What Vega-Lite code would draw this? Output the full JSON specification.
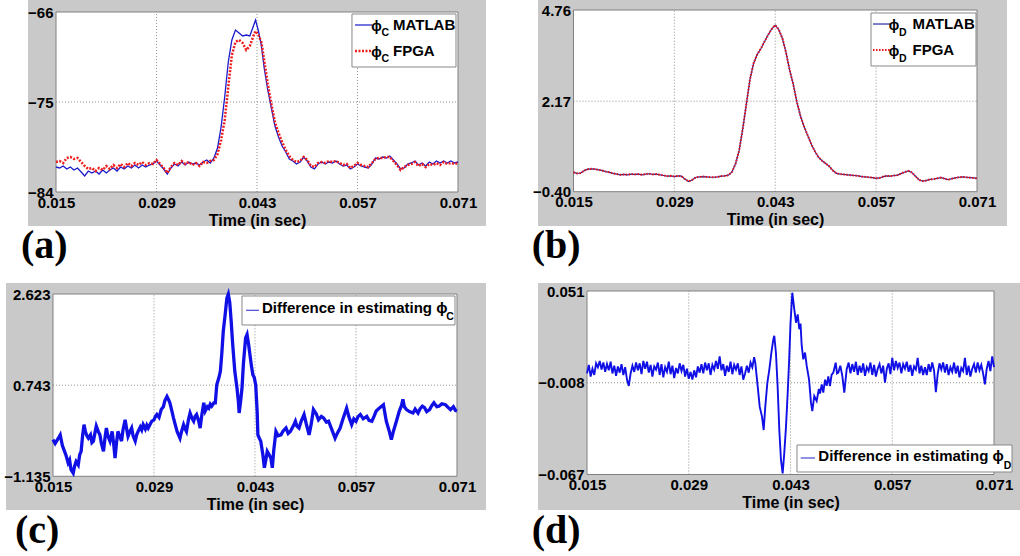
{
"$schema":"https://vega.github.io/schema/vega-lite/v6.json",
"padding":0,
"background":"white",
"config":{"view":{"stroke":null},
 "axis":{"domain":false,"ticks":false,"grid":false,"labelFont":"Liberation Sans","labelFontWeight":"bold","labelFontSize":15,"labelColor":"black","titleFont":"Liberation Sans","titleFontSize":16,"titleFontWeight":"bold","titleColor":"black","labelFlush":false,"labelOverlap":false,"labelPadding":3,"titlePadding":2},
 "text":{"font":"Liberation Sans","fontWeight":"bold","fontSize":15,"align":"left","baseline":"alphabetic","color":"black"}},
"datasets":{
"a":[
{"t":0.0150,"m":-81.5,"f":-81.0},{"t":0.0155,"m":-81.6,"f":-80.9},{"t":0.0160,"m":-81.4,"f":-81.1},{"t":0.0165,"m":-81.7,"f":-80.6},{"t":0.0170,"m":-81.5,"f":-80.5},{"t":0.0175,"m":-81.8,"f":-80.7},{"t":0.0180,"m":-81.6,"f":-80.6},{"t":0.0185,"m":-82.0,"f":-81.0},{"t":0.0190,"m":-82.4,"f":-81.4},{"t":0.0195,"m":-81.9,"f":-81.7},{"t":0.0200,"m":-82.1,"f":-81.6},{"t":0.0205,"m":-81.9,"f":-81.9},{"t":0.0210,"m":-82.2,"f":-81.6},{"t":0.0215,"m":-81.8,"f":-81.8},{"t":0.0220,"m":-82.1,"f":-81.4},{"t":0.0225,"m":-81.8,"f":-81.7},{"t":0.0230,"m":-81.6,"f":-81.3},{"t":0.0235,"m":-81.9,"f":-81.6},{"t":0.0240,"m":-81.5,"f":-81.2},{"t":0.0245,"m":-81.7,"f":-81.5},{"t":0.0250,"m":-81.4,"f":-81.1},{"t":0.0255,"m":-81.6,"f":-81.4},{"t":0.0260,"m":-81.3,"f":-81.1},{"t":0.0265,"m":-81.6,"f":-81.3},{"t":0.0270,"m":-81.3,"f":-81.0},{"t":0.0275,"m":-81.5,"f":-81.3},{"t":0.0280,"m":-81.3,"f":-81.1},{"t":0.0285,"m":-81.2,"f":-81.2},{"t":0.0290,"m":-80.9,"f":-80.8},{"t":0.0295,"m":-81.3,"f":-81.2},{"t":0.0300,"m":-81.7,"f":-81.6},{"t":0.0305,"m":-82.2,"f":-82.1},{"t":0.0310,"m":-81.6,"f":-81.5},{"t":0.0315,"m":-81.2,"f":-81.1},{"t":0.0320,"m":-81.4,"f":-81.3},{"t":0.0325,"m":-81.0,"f":-80.9},{"t":0.0330,"m":-81.3,"f":-81.2},{"t":0.0335,"m":-81.0,"f":-81.0},{"t":0.0340,"m":-81.2,"f":-81.3},{"t":0.0345,"m":-81.1,"f":-81.1},{"t":0.0350,"m":-81.3,"f":-81.4},{"t":0.0355,"m":-81.0,"f":-81.0},{"t":0.0360,"m":-80.8,"f":-81.1},{"t":0.0365,"m":-81.1,"f":-80.9},{"t":0.0370,"m":-80.6,"f":-80.8},{"t":0.0375,"m":-79.6,"f":-80.2},{"t":0.0380,"m":-77.5,"f":-78.8},{"t":0.0385,"m":-74.5,"f":-76.8},{"t":0.0390,"m":-71.0,"f":-73.5},{"t":0.0395,"m":-68.8,"f":-70.3},{"t":0.0400,"m":-67.8,"f":-69.0},{"t":0.0405,"m":-68.1,"f":-68.8},{"t":0.0410,"m":-68.4,"f":-69.1},{"t":0.0415,"m":-68.3,"f":-69.8},{"t":0.0420,"m":-68.4,"f":-69.4},{"t":0.0425,"m":-67.4,"f":-68.4},{"t":0.0428,"m":-66.8,"f":-67.9},{"t":0.0432,"m":-67.9,"f":-68.3},{"t":0.0436,"m":-69.3,"f":-69.0},{"t":0.0440,"m":-71.6,"f":-70.8},{"t":0.0445,"m":-73.8,"f":-73.2},{"t":0.0450,"m":-75.6,"f":-75.2},{"t":0.0455,"m":-77.4,"f":-77.0},{"t":0.0460,"m":-78.5,"f":-78.1},{"t":0.0465,"m":-79.4,"f":-79.0},{"t":0.0470,"m":-80.0,"f":-79.8},{"t":0.0475,"m":-80.7,"f":-80.4},{"t":0.0480,"m":-80.9,"f":-80.8},{"t":0.0485,"m":-81.2,"f":-81.0},{"t":0.0490,"m":-81.0,"f":-80.9},{"t":0.0495,"m":-80.5,"f":-80.5},{"t":0.0500,"m":-80.9,"f":-80.8},{"t":0.0505,"m":-81.5,"f":-81.4},{"t":0.0510,"m":-81.7,"f":-81.5},{"t":0.0515,"m":-81.2,"f":-81.1},{"t":0.0520,"m":-81.0,"f":-81.0},{"t":0.0525,"m":-81.2,"f":-81.1},{"t":0.0530,"m":-81.0,"f":-80.9},{"t":0.0535,"m":-81.1,"f":-81.0},{"t":0.0540,"m":-80.9,"f":-80.9},{"t":0.0545,"m":-81.2,"f":-81.1},{"t":0.0550,"m":-81.4,"f":-81.3},{"t":0.0555,"m":-81.3,"f":-81.2},{"t":0.0560,"m":-81.7,"f":-81.6},{"t":0.0565,"m":-81.5,"f":-81.4},{"t":0.0570,"m":-81.2,"f":-81.1},{"t":0.0575,"m":-81.4,"f":-81.3},{"t":0.0580,"m":-81.5,"f":-81.4},{"t":0.0585,"m":-81.6,"f":-81.5},{"t":0.0590,"m":-81.2,"f":-81.1},{"t":0.0595,"m":-80.6,"f":-80.7},{"t":0.0600,"m":-80.7,"f":-80.6},{"t":0.0605,"m":-80.5,"f":-80.6},{"t":0.0610,"m":-80.6,"f":-80.5},{"t":0.0615,"m":-80.4,"f":-80.5},{"t":0.0620,"m":-80.8,"f":-80.9},{"t":0.0625,"m":-81.2,"f":-81.3},{"t":0.0630,"m":-81.7,"f":-81.8},{"t":0.0635,"m":-81.6,"f":-81.5},{"t":0.0640,"m":-81.2,"f":-81.3},{"t":0.0645,"m":-81.1,"f":-81.2},{"t":0.0650,"m":-80.9,"f":-81.0},{"t":0.0655,"m":-81.3,"f":-81.4},{"t":0.0660,"m":-81.1,"f":-81.2},{"t":0.0665,"m":-81.4,"f":-81.5},{"t":0.0670,"m":-81.0,"f":-81.2},{"t":0.0675,"m":-81.2,"f":-81.3},{"t":0.0680,"m":-80.9,"f":-81.1},{"t":0.0685,"m":-81.1,"f":-81.3},{"t":0.0690,"m":-80.9,"f":-81.0},{"t":0.0695,"m":-81.1,"f":-81.2},{"t":0.0700,"m":-80.9,"f":-81.1},{"t":0.0705,"m":-81.1,"f":-81.2},{"t":0.0710,"m":-81.0,"f":-81.1}],
"b":[
{"t":0.0150,"v":0.15},{"t":0.0155,"v":0.12},{"t":0.0160,"v":0.13},{"t":0.0165,"v":0.20},{"t":0.0170,"v":0.24},{"t":0.0175,"v":0.25},{"t":0.0180,"v":0.24},{"t":0.0185,"v":0.22},{"t":0.0190,"v":0.20},{"t":0.0195,"v":0.17},{"t":0.0200,"v":0.15},{"t":0.0205,"v":0.12},{"t":0.0210,"v":0.10},{"t":0.0215,"v":0.08},{"t":0.0220,"v":0.09},{"t":0.0225,"v":0.08},{"t":0.0230,"v":0.10},{"t":0.0235,"v":0.09},{"t":0.0240,"v":0.10},{"t":0.0245,"v":0.08},{"t":0.0250,"v":0.10},{"t":0.0255,"v":0.11},{"t":0.0260,"v":0.09},{"t":0.0265,"v":0.10},{"t":0.0270,"v":0.08},{"t":0.0275,"v":0.06},{"t":0.0280,"v":0.04},{"t":0.0285,"v":0.05},{"t":0.0290,"v":0.03},{"t":0.0295,"v":0.05},{"t":0.0300,"v":0.04},{"t":0.0305,"v":-0.05},{"t":0.0310,"v":-0.11},{"t":0.0315,"v":-0.06},{"t":0.0320,"v":0.01},{"t":0.0325,"v":0.02},{"t":0.0330,"v":0.03},{"t":0.0335,"v":0.02},{"t":0.0340,"v":0.01},{"t":0.0345,"v":0.01},{"t":0.0350,"v":0.02},{"t":0.0355,"v":0.04},{"t":0.0360,"v":0.05},{"t":0.0365,"v":0.07},{"t":0.0370,"v":0.16},{"t":0.0375,"v":0.40},{"t":0.0380,"v":0.78},{"t":0.0385,"v":1.40},{"t":0.0390,"v":2.10},{"t":0.0395,"v":2.80},{"t":0.0400,"v":3.25},{"t":0.0405,"v":3.50},{"t":0.0410,"v":3.66},{"t":0.0415,"v":3.86},{"t":0.0420,"v":4.05},{"t":0.0425,"v":4.22},{"t":0.0430,"v":4.33},{"t":0.0435,"v":4.20},{"t":0.0440,"v":3.95},{"t":0.0445,"v":3.55},{"t":0.0450,"v":3.05},{"t":0.0455,"v":2.65},{"t":0.0460,"v":2.15},{"t":0.0465,"v":1.75},{"t":0.0470,"v":1.45},{"t":0.0475,"v":1.20},{"t":0.0480,"v":0.95},{"t":0.0485,"v":0.75},{"t":0.0490,"v":0.58},{"t":0.0495,"v":0.48},{"t":0.0500,"v":0.40},{"t":0.0505,"v":0.32},{"t":0.0510,"v":0.20},{"t":0.0515,"v":0.12},{"t":0.0520,"v":0.10},{"t":0.0525,"v":0.09},{"t":0.0530,"v":0.08},{"t":0.0535,"v":0.07},{"t":0.0540,"v":0.06},{"t":0.0545,"v":0.05},{"t":0.0550,"v":0.03},{"t":0.0555,"v":0.02},{"t":0.0560,"v":0.01},{"t":0.0565,"v":0.00},{"t":0.0570,"v":-0.02},{"t":0.0575,"v":-0.01},{"t":0.0580,"v":0.03},{"t":0.0585,"v":0.05},{"t":0.0590,"v":0.04},{"t":0.0595,"v":0.06},{"t":0.0600,"v":0.07},{"t":0.0605,"v":0.12},{"t":0.0610,"v":0.16},{"t":0.0615,"v":0.19},{"t":0.0620,"v":0.14},{"t":0.0625,"v":0.03},{"t":0.0630,"v":-0.07},{"t":0.0635,"v":-0.10},{"t":0.0640,"v":-0.08},{"t":0.0645,"v":-0.05},{"t":0.0650,"v":-0.04},{"t":0.0655,"v":-0.02},{"t":0.0660,"v":0.00},{"t":0.0665,"v":-0.03},{"t":0.0670,"v":-0.06},{"t":0.0675,"v":-0.03},{"t":0.0680,"v":-0.01},{"t":0.0685,"v":0.01},{"t":0.0690,"v":0.02},{"t":0.0695,"v":0.01},{"t":0.0700,"v":0.00},{"t":0.0705,"v":-0.01},{"t":0.0710,"v":-0.02}],
"c":[
{"t":0.0150,"v":-0.38},{"t":0.0153,"v":-0.46},{"t":0.0157,"v":-0.36},{"t":0.0160,"v":-0.28},{"t":0.0163,"v":-0.50},{"t":0.0166,"v":-0.62},{"t":0.0168,"v":-0.70},{"t":0.0171,"v":-0.86},{"t":0.0173,"v":-0.80},{"t":0.0175,"v":-1.00},{"t":0.0178,"v":-1.07},{"t":0.0180,"v":-0.92},{"t":0.0182,"v":-0.83},{"t":0.0185,"v":-0.90},{"t":0.0187,"v":-0.69},{"t":0.0189,"v":-0.62},{"t":0.0191,"v":-0.30},{"t":0.0193,"v":-0.07},{"t":0.0195,"v":-0.22},{"t":0.0197,"v":-0.30},{"t":0.0199,"v":-0.35},{"t":0.0202,"v":-0.28},{"t":0.0204,"v":-0.44},{"t":0.0206,"v":-0.41},{"t":0.0208,"v":-0.25},{"t":0.0210,"v":-0.10},{"t":0.0213,"v":-0.22},{"t":0.0215,"v":-0.28},{"t":0.0217,"v":-0.45},{"t":0.0220,"v":-0.62},{"t":0.0222,"v":-0.35},{"t":0.0224,"v":-0.14},{"t":0.0226,"v":-0.30},{"t":0.0229,"v":-0.41},{"t":0.0232,"v":-0.21},{"t":0.0234,"v":-0.45},{"t":0.0236,"v":-0.76},{"t":0.0238,"v":-0.45},{"t":0.0240,"v":-0.21},{"t":0.0243,"v":-0.33},{"t":0.0245,"v":-0.41},{"t":0.0247,"v":-0.18},{"t":0.0250,"v":0.03},{"t":0.0252,"v":-0.15},{"t":0.0254,"v":-0.31},{"t":0.0257,"v":-0.20},{"t":0.0259,"v":-0.14},{"t":0.0261,"v":-0.30},{"t":0.0264,"v":-0.41},{"t":0.0266,"v":-0.28},{"t":0.0268,"v":-0.21},{"t":0.0271,"v":-0.12},{"t":0.0273,"v":-0.18},{"t":0.0275,"v":-0.07},{"t":0.0278,"v":-0.16},{"t":0.0280,"v":-0.08},{"t":0.0282,"v":-0.14},{"t":0.0285,"v":-0.05},{"t":0.0287,"v":0.00},{"t":0.0290,"v":0.03},{"t":0.0292,"v":0.10},{"t":0.0294,"v":0.14},{"t":0.0297,"v":0.08},{"t":0.0300,"v":0.24},{"t":0.0303,"v":0.30},{"t":0.0305,"v":0.42},{"t":0.0308,"v":0.51},{"t":0.0310,"v":0.45},{"t":0.0312,"v":0.38},{"t":0.0315,"v":0.20},{"t":0.0317,"v":0.07},{"t":0.0320,"v":-0.10},{"t":0.0322,"v":-0.21},{"t":0.0324,"v":-0.28},{"t":0.0326,"v":-0.35},{"t":0.0328,"v":-0.22},{"t":0.0331,"v":-0.07},{"t":0.0333,"v":-0.15},{"t":0.0335,"v":-0.21},{"t":0.0338,"v":0.05},{"t":0.0340,"v":0.17},{"t":0.0343,"v":0.05},{"t":0.0345,"v":0.00},{"t":0.0347,"v":0.10},{"t":0.0349,"v":0.14},{"t":0.0352,"v":0.00},{"t":0.0354,"v":-0.14},{"t":0.0356,"v":0.10},{"t":0.0359,"v":0.38},{"t":0.0361,"v":0.21},{"t":0.0364,"v":0.30},{"t":0.0366,"v":0.27},{"t":0.0368,"v":0.35},{"t":0.0370,"v":0.31},{"t":0.0373,"v":0.38},{"t":0.0375,"v":0.38},{"t":0.0377,"v":0.75},{"t":0.0380,"v":0.90},{"t":0.0382,"v":1.03},{"t":0.0384,"v":1.40},{"t":0.0386,"v":1.85},{"t":0.0389,"v":2.25},{"t":0.0391,"v":2.54},{"t":0.0393,"v":2.62},{"t":0.0395,"v":2.45},{"t":0.0397,"v":2.06},{"t":0.0399,"v":1.60},{"t":0.0402,"v":1.03},{"t":0.0405,"v":0.69},{"t":0.0407,"v":0.40},{"t":0.0408,"v":0.17},{"t":0.0410,"v":0.40},{"t":0.0412,"v":0.69},{"t":0.0414,"v":1.20},{"t":0.0417,"v":1.72},{"t":0.0419,"v":1.79},{"t":0.0421,"v":1.60},{"t":0.0423,"v":1.37},{"t":0.0425,"v":1.15},{"t":0.0427,"v":0.96},{"t":0.0429,"v":0.90},{"t":0.0431,"v":0.75},{"t":0.0433,"v":0.20},{"t":0.0434,"v":-0.28},{"t":0.0436,"v":-0.35},{"t":0.0438,"v":-0.41},{"t":0.0441,"v":-0.70},{"t":0.0443,"v":-0.96},{"t":0.0445,"v":-0.80},{"t":0.0447,"v":-0.62},{"t":0.0450,"v":-0.70},{"t":0.0452,"v":-0.76},{"t":0.0454,"v":-0.96},{"t":0.0456,"v":-0.60},{"t":0.0459,"v":-0.21},{"t":0.0462,"v":-0.30},{"t":0.0466,"v":-0.28},{"t":0.0469,"v":-0.20},{"t":0.0473,"v":-0.14},{"t":0.0476,"v":-0.25},{"t":0.0479,"v":-0.21},{"t":0.0483,"v":-0.10},{"t":0.0486,"v":0.00},{"t":0.0488,"v":-0.10},{"t":0.0491,"v":-0.14},{"t":0.0494,"v":0.00},{"t":0.0498,"v":0.14},{"t":0.0501,"v":-0.05},{"t":0.0505,"v":-0.28},{"t":0.0508,"v":-0.05},{"t":0.0511,"v":0.24},{"t":0.0515,"v":0.15},{"t":0.0518,"v":0.03},{"t":0.0522,"v":0.10},{"t":0.0525,"v":0.07},{"t":0.0529,"v":-0.02},{"t":0.0532,"v":0.00},{"t":0.0536,"v":-0.15},{"t":0.0541,"v":-0.35},{"t":0.0544,"v":-0.25},{"t":0.0548,"v":-0.14},{"t":0.0552,"v":0.05},{"t":0.0557,"v":0.27},{"t":0.0560,"v":0.10},{"t":0.0564,"v":-0.07},{"t":0.0567,"v":0.05},{"t":0.0570,"v":0.00},{"t":0.0573,"v":0.10},{"t":0.0576,"v":0.14},{"t":0.0580,"v":0.05},{"t":0.0585,"v":0.10},{"t":0.0588,"v":0.02},{"t":0.0592,"v":0.00},{"t":0.0595,"v":0.10},{"t":0.0598,"v":0.21},{"t":0.0603,"v":0.28},{"t":0.0608,"v":0.34},{"t":0.0612,"v":0.00},{"t":0.0616,"v":-0.20},{"t":0.0619,"v":-0.38},{"t":0.0622,"v":-0.20},{"t":0.0626,"v":0.00},{"t":0.0630,"v":0.21},{"t":0.0633,"v":0.32},{"t":0.0635,"v":0.45},{"t":0.0637,"v":0.30},{"t":0.0640,"v":0.24},{"t":0.0644,"v":0.20},{"t":0.0649,"v":0.17},{"t":0.0652,"v":0.25},{"t":0.0656,"v":0.17},{"t":0.0659,"v":0.26},{"t":0.0662,"v":0.31},{"t":0.0665,"v":0.28},{"t":0.0668,"v":0.20},{"t":0.0672,"v":0.24},{"t":0.0675,"v":0.32},{"t":0.0678,"v":0.38},{"t":0.0682,"v":0.30},{"t":0.0685,"v":0.31},{"t":0.0689,"v":0.36},{"t":0.0694,"v":0.34},{"t":0.0698,"v":0.28},{"t":0.0701,"v":0.24},{"t":0.0705,"v":0.30},{"t":0.0708,"v":0.22},{"t":0.0710,"v":0.21}],
"d":[
{"t":0.01500,"v":-0.0020},{"t":0.01525,"v":0.0035},{"t":0.01550,"v":-0.0040},{"t":0.01575,"v":0.0010},{"t":0.01600,"v":-0.0030},{"t":0.01625,"v":0.0045},{"t":0.01650,"v":0.0020},{"t":0.01675,"v":0.0060},{"t":0.01700,"v":0.0005},{"t":0.01725,"v":0.0050},{"t":0.01750,"v":-0.0010},{"t":0.01775,"v":0.0040},{"t":0.01800,"v":0.0000},{"t":0.01825,"v":0.0055},{"t":0.01850,"v":-0.0020},{"t":0.01875,"v":0.0030},{"t":0.01900,"v":-0.0035},{"t":0.01925,"v":0.0025},{"t":0.01950,"v":-0.0015},{"t":0.01975,"v":0.0040},{"t":0.02000,"v":-0.0030},{"t":0.02025,"v":0.0020},{"t":0.02050,"v":-0.0060},{"t":0.02075,"v":-0.0100},{"t":0.02100,"v":-0.0020},{"t":0.02125,"v":0.0030},{"t":0.02150,"v":-0.0010},{"t":0.02175,"v":0.0050},{"t":0.02200,"v":0.0000},{"t":0.02225,"v":0.0045},{"t":0.02250,"v":-0.0025},{"t":0.02275,"v":0.0060},{"t":0.02300,"v":0.0010},{"t":0.02325,"v":0.0055},{"t":0.02350,"v":-0.0015},{"t":0.02375,"v":0.0035},{"t":0.02400,"v":-0.0040},{"t":0.02425,"v":0.0025},{"t":0.02450,"v":0.0005},{"t":0.02475,"v":0.0050},{"t":0.02500,"v":-0.0030},{"t":0.02525,"v":0.0040},{"t":0.02550,"v":-0.0045},{"t":0.02575,"v":0.0020},{"t":0.02600,"v":-0.0010},{"t":0.02625,"v":0.0055},{"t":0.02650,"v":-0.0025},{"t":0.02675,"v":0.0030},{"t":0.02700,"v":-0.0050},{"t":0.02725,"v":0.0015},{"t":0.02750,"v":-0.0020},{"t":0.02775,"v":0.0045},{"t":0.02800,"v":-0.0005},{"t":0.02825,"v":0.0035},{"t":0.02850,"v":-0.0040},{"t":0.02875,"v":0.0010},{"t":0.02900,"v":-0.0055},{"t":0.02925,"v":-0.0010},{"t":0.02950,"v":-0.0060},{"t":0.02975,"v":0.0000},{"t":0.03000,"v":-0.0045},{"t":0.03025,"v":0.0025},{"t":0.03050,"v":-0.0015},{"t":0.03075,"v":0.0040},{"t":0.03100,"v":-0.0020},{"t":0.03125,"v":0.0050},{"t":0.03150,"v":0.0000},{"t":0.03175,"v":0.0045},{"t":0.03200,"v":-0.0030},{"t":0.03225,"v":0.0035},{"t":0.03250,"v":0.0005},{"t":0.03275,"v":0.0060},{"t":0.03300,"v":0.0010},{"t":0.03325,"v":0.0090},{"t":0.03350,"v":0.0000},{"t":0.03375,"v":0.0040},{"t":0.03400,"v":-0.0035},{"t":0.03425,"v":0.0030},{"t":0.03450,"v":-0.0010},{"t":0.03475,"v":0.0055},{"t":0.03500,"v":-0.0025},{"t":0.03525,"v":0.0035},{"t":0.03550,"v":0.0005},{"t":0.03575,"v":0.0045},{"t":0.03600,"v":-0.0030},{"t":0.03625,"v":0.0025},{"t":0.03650,"v":-0.0060},{"t":0.03675,"v":-0.0020},{"t":0.03700,"v":0.0030},{"t":0.03725,"v":-0.0015},{"t":0.03750,"v":0.0050},{"t":0.03775,"v":0.0020},{"t":0.03800,"v":0.0085},{"t":0.03816,"v":0.0046},{"t":0.03849,"v":-0.0105},{"t":0.03876,"v":-0.0234},{"t":0.03908,"v":-0.0298},{"t":0.03931,"v":-0.0384},{"t":0.03953,"v":-0.0234},{"t":0.03981,"v":-0.0083},{"t":0.04008,"v":0.0003},{"t":0.04036,"v":0.0110},{"t":0.04063,"v":0.0197},{"t":0.04077,"v":0.0222},{"t":0.04100,"v":0.0110},{"t":0.04123,"v":-0.0105},{"t":0.04146,"v":-0.0384},{"t":0.04169,"v":-0.0577},{"t":0.04192,"v":-0.0663},{"t":0.04214,"v":-0.0534},{"t":0.04238,"v":-0.0362},{"t":0.04261,"v":-0.0150},{"t":0.04280,"v":0.0050},{"t":0.04300,"v":0.0300},{"t":0.04325,"v":0.0499},{"t":0.04352,"v":0.0392},{"t":0.04376,"v":0.0306},{"t":0.04399,"v":0.0360},{"t":0.04421,"v":0.0264},{"t":0.04438,"v":0.0300},{"t":0.04454,"v":0.0160},{"t":0.04476,"v":0.0071},{"t":0.04500,"v":0.0114},{"t":0.04523,"v":0.0028},{"t":0.04555,"v":-0.0058},{"t":0.04582,"v":-0.0208},{"t":0.04600,"v":-0.0262},{"t":0.04627,"v":-0.0165},{"t":0.04660,"v":-0.0197},{"t":0.04690,"v":-0.0120},{"t":0.04706,"v":-0.0150},{"t":0.04730,"v":-0.0090},{"t":0.04751,"v":-0.0144},{"t":0.04775,"v":-0.0060},{"t":0.04798,"v":-0.0100},{"t":0.04820,"v":-0.0040},{"t":0.04843,"v":-0.0101},{"t":0.04865,"v":-0.0030},{"t":0.04889,"v":-0.0015},{"t":0.04922,"v":0.0049},{"t":0.04940,"v":-0.0020},{"t":0.04958,"v":-0.0015},{"t":0.04985,"v":0.0030},{"t":0.05013,"v":-0.0036},{"t":0.05040,"v":-0.0144},{"t":0.05073,"v":0.0007},{"t":0.05100,"v":0.0050},{"t":0.05125,"v":-0.0020},{"t":0.05150,"v":0.0040},{"t":0.05175,"v":-0.0010},{"t":0.05200,"v":0.0055},{"t":0.05225,"v":-0.0030},{"t":0.05250,"v":0.0030},{"t":0.05275,"v":-0.0015},{"t":0.05300,"v":0.0045},{"t":0.05325,"v":-0.0035},{"t":0.05350,"v":0.0020},{"t":0.05375,"v":-0.0005},{"t":0.05400,"v":0.0050},{"t":0.05425,"v":-0.0030},{"t":0.05450,"v":0.0035},{"t":0.05475,"v":-0.0040},{"t":0.05500,"v":0.0010},{"t":0.05525,"v":0.0040},{"t":0.05550,"v":-0.0020},{"t":0.05575,"v":0.0030},{"t":0.05600,"v":-0.0080},{"t":0.05625,"v":0.0010},{"t":0.05650,"v":0.0045},{"t":0.05675,"v":-0.0025},{"t":0.05700,"v":0.0080},{"t":0.05725,"v":0.0000},{"t":0.05750,"v":0.0060},{"t":0.05775,"v":0.0015},{"t":0.05800,"v":0.0050},{"t":0.05825,"v":-0.0020},{"t":0.05850,"v":0.0040},{"t":0.05875,"v":0.0010},{"t":0.05900,"v":0.0055},{"t":0.05925,"v":-0.0010},{"t":0.05950,"v":0.0035},{"t":0.05975,"v":-0.0035},{"t":0.06000,"v":0.0025},{"t":0.06025,"v":0.0005},{"t":0.06050,"v":0.0080},{"t":0.06075,"v":-0.0020},{"t":0.06100,"v":0.0030},{"t":0.06125,"v":-0.0030},{"t":0.06150,"v":0.0020},{"t":0.06175,"v":-0.0030},{"t":0.06200,"v":0.0040},{"t":0.06225,"v":-0.0010},{"t":0.06250,"v":0.0050},{"t":0.06275,"v":0.0000},{"t":0.06300,"v":-0.0140},{"t":0.06325,"v":-0.0025},{"t":0.06350,"v":0.0045},{"t":0.06375,"v":0.0005},{"t":0.06400,"v":0.0050},{"t":0.06425,"v":-0.0015},{"t":0.06450,"v":0.0040},{"t":0.06475,"v":-0.0030},{"t":0.06500,"v":0.0020},{"t":0.06525,"v":-0.0010},{"t":0.06550,"v":0.0050},{"t":0.06575,"v":-0.0020},{"t":0.06600,"v":0.0030},{"t":0.06625,"v":-0.0045},{"t":0.06650,"v":0.0015},{"t":0.06675,"v":-0.0005},{"t":0.06700,"v":0.0080},{"t":0.06725,"v":-0.0030},{"t":0.06750,"v":0.0030},{"t":0.06775,"v":-0.0040},{"t":0.06800,"v":0.0010},{"t":0.06825,"v":0.0040},{"t":0.06850,"v":-0.0015},{"t":0.06875,"v":0.0050},{"t":0.06900,"v":0.0000},{"t":0.06925,"v":0.0035},{"t":0.06950,"v":-0.0020},{"t":0.06975,"v":-0.0090},{"t":0.07000,"v":0.0010},{"t":0.07025,"v":0.0060},{"t":0.07050,"v":-0.0005},{"t":0.07075,"v":0.0090},{"t":0.07100,"v":0.0020}]
},
"columns":2,
"spacing":0,
"bounds":"flush",
"concat":[
{"width":510,"height":278,"layer":[
 {"data":{"values":[{}]},"mark":{"type":"rect","color":"#c9c9c9"},"encoding":{
   "x":{"datum":0.0111,"type":"quantitative","scale":{"domain":[0.0071990,0.0782438],"nice":false,"zero":false},"axis":{"values":[0.015,0.029,0.043,0.057,0.071],"format":".3f","offset":-86,"title":"Time (in sec)","titleX":257,"titleAlign":"center","zindex":1}},
   "x2":{"datum":0.0749},
   "y":{"datum":-64.8,"type":"quantitative","scale":{"domain":[-92.6,-64.8],"nice":false,"zero":false},"axis":{"values":[-84,-75,-66],"format":"d","offset":-56,"title":null,"zindex":1}},
   "y2":{"datum":-87.4}}},
 {"data":{"values":[{}]},"mark":{"type":"rect","fill":"white","stroke":"#808080","strokeWidth":1},"encoding":{"x":{"datum":0.015,"type":"quantitative"},"x2":{"datum":0.071},"y":{"datum":-84,"type":"quantitative"},"y2":{"datum":-66}}},
 {"data":{"values":[{"g":0.029},{"g":0.043},{"g":0.057}]},"mark":{"type":"rule","color":"#777777","strokeDash":[1,2],"strokeWidth":0.8},"encoding":{"x":{"field":"g","type":"quantitative"},"y":{"datum":-84,"type":"quantitative"},"y2":{"datum":-66}}},
 {"data":{"values":[{}]},"mark":{"type":"rule","color":"#777777","strokeDash":[1,2],"strokeWidth":0.8},"encoding":{"x":{"datum":0.015,"type":"quantitative"},"x2":{"datum":0.071},"y":{"datum":-75,"type":"quantitative"}}},
 {"data":{"name":"a"},"mark":{"type":"line","color":"#1a1acc","strokeWidth":1.3},"encoding":{"x":{"field":"t","type":"quantitative"},"y":{"field":"m","type":"quantitative"}}},
 {"data":{"name":"a"},"mark":{"type":"line","color":"#ee1c1c","strokeWidth":2.5,"strokeDash":[2,1.5]},"encoding":{"x":{"field":"t","type":"quantitative"},"y":{"field":"f","type":"quantitative"}}},
 {"data":{"values":[{}]},"mark":{"type":"rect","fill":"white","stroke":"#888888","strokeWidth":1},"encoding":{"x":{"datum":0.05623,"type":"quantitative"},"x2":{"datum":0.07072},"y":{"datum":-66.2,"type":"quantitative"},"y2":{"datum":-71.5}}},
 {"data":{"values":[{}]},"mark":{"type":"rule","color":"#1a1acc","strokeWidth":1.2},"encoding":{"x":{"datum":0.05665,"type":"quantitative"},"x2":{"datum":0.05902},"y":{"datum":-67.3,"type":"quantitative"}}},
 {"data":{"values":[{}]},"mark":{"type":"rule","color":"#ee1c1c","strokeWidth":2.5,"strokeDash":[2,1.5]},"encoding":{"x":{"datum":0.05665,"type":"quantitative"},"x2":{"datum":0.05902},"y":{"datum":-69.9,"type":"quantitative"}}},
 {"data":{"values":[{}]},"mark":{"type":"text","text":"ϕ","fontSize":14,"align":"center"},"encoding":{"x":{"datum":0.059646,"type":"quantitative"},"y":{"datum":-67.9,"type":"quantitative"}}},
 {"data":{"values":[{}]},"mark":{"type":"text","text":"ϕ","fontSize":14,"align":"center"},"encoding":{"x":{"datum":0.059646,"type":"quantitative"},"y":{"datum":-70.5,"type":"quantitative"}}},
 {"data":{"values":[{}]},"mark":{"type":"text","text":"C","fontSize":10.5},"encoding":{"x":{"datum":0.060343,"type":"quantitative"},"y":{"datum":-68.4,"type":"quantitative"}}},
 {"data":{"values":[{}]},"mark":{"type":"text","text":"C","fontSize":10.5},"encoding":{"x":{"datum":0.060343,"type":"quantitative"},"y":{"datum":-71.0,"type":"quantitative"}}},
 {"data":{"values":[{}]},"mark":{"type":"text","text":"MATLAB"},"encoding":{"x":{"datum":0.06195,"type":"quantitative"},"y":{"datum":-67.8,"type":"quantitative"}}},
 {"data":{"values":[{}]},"mark":{"type":"text","text":"FPGA"},"encoding":{"x":{"datum":0.06195,"type":"quantitative"},"y":{"datum":-70.4,"type":"quantitative"}}},
 {"data":{"values":[{}]},"mark":{"type":"text","text":"(a)","font":"Liberation Serif","fontSize":40},"encoding":{"x":{"datum":0.010124,"type":"quantitative"},"y":{"datum":-90.6,"type":"quantitative"}}}
]},
{"width":510,"height":278,"layer":[
 {"data":{"values":[{}]},"mark":{"type":"rect","color":"#c9c9c9"},"encoding":{
   "x":{"datum":0.010073,"type":"quantitative","scale":{"domain":[0.0061871,0.076968],"nice":false,"zero":false},"axis":{"values":[0.015,0.029,0.043,0.057,0.071],"format":".3f","offset":-86.3,"title":"Time (in sec)","titleX":265,"titleAlign":"center","zindex":1}},
   "x2":{"datum":0.075164},
   "y":{"datum":5.044,"type":"quantitative","scale":{"domain":[-2.851,5.044],"nice":false,"zero":false},"axis":{"values":[-0.4,2.17,4.76],"format":".2f","offset":-63.5,"title":null,"zindex":1}},
   "y2":{"datum":-1.374}}},
 {"data":{"values":[{}]},"mark":{"type":"rect","fill":"white","stroke":"#808080","strokeWidth":1},"encoding":{"x":{"datum":0.015,"type":"quantitative"},"x2":{"datum":0.071},"y":{"datum":-0.4,"type":"quantitative"},"y2":{"datum":4.76}}},
 {"data":{"values":[{"g":0.029},{"g":0.043},{"g":0.057}]},"mark":{"type":"rule","color":"#777777","strokeDash":[1,2],"strokeWidth":0.8},"encoding":{"x":{"field":"g","type":"quantitative"},"y":{"datum":-0.4,"type":"quantitative"},"y2":{"datum":4.76}}},
 {"data":{"values":[{}]},"mark":{"type":"rule","color":"#777777","strokeDash":[1,2],"strokeWidth":0.8},"encoding":{"x":{"datum":0.015,"type":"quantitative"},"x2":{"datum":0.071},"y":{"datum":2.17,"type":"quantitative"}}},
 {"data":{"name":"b"},"mark":{"type":"line","color":"#2a2a9a","strokeWidth":1.2},"encoding":{"x":{"field":"t","type":"quantitative"},"y":{"field":"v","type":"quantitative"}}},
 {"data":{"name":"b"},"mark":{"type":"line","color":"#e8141c","strokeWidth":2,"strokeDash":[1.5,1.5]},"encoding":{"x":{"field":"t","type":"quantitative"},"y":{"field":"v","type":"quantitative"}}},
 {"data":{"values":[{}]},"mark":{"type":"rect","fill":"white","stroke":"#888888","strokeWidth":1},"encoding":{"x":{"datum":0.05629,"type":"quantitative"},"x2":{"datum":0.07086},"y":{"datum":4.675,"type":"quantitative"},"y2":{"datum":3.170}}},
 {"data":{"values":[{}]},"mark":{"type":"rule","color":"#2a2a9a","strokeWidth":1.2},"encoding":{"x":{"datum":0.05657,"type":"quantitative"},"x2":{"datum":0.05893},"y":{"datum":4.362,"type":"quantitative"}}},
 {"data":{"values":[{}]},"mark":{"type":"rule","color":"#e8141c","strokeWidth":2,"strokeDash":[1.5,1.5]},"encoding":{"x":{"datum":0.05657,"type":"quantitative"},"x2":{"datum":0.05893},"y":{"datum":3.624,"type":"quantitative"}}},
 {"data":{"values":[{}]},"mark":{"type":"text","text":"ϕ","fontSize":14,"align":"center"},"encoding":{"x":{"datum":0.059481,"type":"quantitative"},"y":{"datum":4.192,"type":"quantitative"}}},
 {"data":{"values":[{}]},"mark":{"type":"text","text":"ϕ","fontSize":14,"align":"center"},"encoding":{"x":{"datum":0.059481,"type":"quantitative"},"y":{"datum":3.454,"type":"quantitative"}}},
 {"data":{"values":[{}]},"mark":{"type":"text","text":"D","fontSize":10.5},"encoding":{"x":{"datum":0.060175,"type":"quantitative"},"y":{"datum":4.022,"type":"quantitative"}}},
 {"data":{"values":[{}]},"mark":{"type":"text","text":"D","fontSize":10.5},"encoding":{"x":{"datum":0.060175,"type":"quantitative"},"y":{"datum":3.283,"type":"quantitative"}}},
 {"data":{"values":[{}]},"mark":{"type":"text","text":"MATLAB"},"encoding":{"x":{"datum":0.06205,"type":"quantitative"},"y":{"datum":4.220,"type":"quantitative"}}},
 {"data":{"values":[{}]},"mark":{"type":"text","text":"FPGA"},"encoding":{"x":{"datum":0.06205,"type":"quantitative"},"y":{"datum":3.482,"type":"quantitative"}}},
 {"data":{"values":[{}]},"mark":{"type":"text","text":"(b)","font":"Liberation Serif","fontSize":40},"encoding":{"x":{"datum":0.009199,"type":"quantitative"},"y":{"datum":-2.283,"type":"quantitative"}}}
]},
{"width":510,"height":278,"layer":[
 {"data":{"values":[{}]},"mark":{"type":"rect","color":"#c9c9c9"},"encoding":{
   "x":{"datum":0.008485,"type":"quantitative","scale":{"domain":[0.0076535,0.078347],"nice":false,"zero":false},"axis":{"values":[0.015,0.029,0.043,0.057,0.071],"format":".3f","offset":-79.7,"title":"Time (in sec)","titleX":255,"titleAlign":"center","zindex":1}},
   "x2":{"datum":0.075020},
   "y":{"datum":2.8498,"type":"quantitative","scale":{"domain":[-2.77787,2.95283],"nice":false,"zero":false},"axis":{"values":[-1.135,0.743,2.623],"format":".3f","offset":-53,"title":null,"zindex":1}},
   "y2":{"datum":-1.8296}}},
 {"data":{"values":[{}]},"mark":{"type":"rect","fill":"white","stroke":"#808080","strokeWidth":1},"encoding":{"x":{"datum":0.015,"type":"quantitative"},"x2":{"datum":0.071},"y":{"datum":-1.135,"type":"quantitative"},"y2":{"datum":2.623}}},
 {"data":{"values":[{"g":0.029},{"g":0.043},{"g":0.057}]},"mark":{"type":"rule","color":"#777777","strokeDash":[1,2],"strokeWidth":0.8},"encoding":{"x":{"field":"g","type":"quantitative"},"y":{"datum":-1.135,"type":"quantitative"},"y2":{"datum":2.623}}},
 {"data":{"values":[{}]},"mark":{"type":"rule","color":"#777777","strokeDash":[1,2],"strokeWidth":0.8},"encoding":{"x":{"datum":0.015,"type":"quantitative"},"x2":{"datum":0.071},"y":{"datum":0.743,"type":"quantitative"}}},
 {"data":{"name":"c"},"mark":{"type":"line","color":"#1010e6","strokeWidth":3.3},"encoding":{"x":{"field":"t","type":"quantitative"},"y":{"field":"v","type":"quantitative"}}},
 {"data":{"values":[{}]},"mark":{"type":"rect","fill":"white","stroke":"#888888","strokeWidth":1},"encoding":{"x":{"datum":0.041198,"type":"quantitative"},"x2":{"datum":0.070723},"y":{"datum":2.5818,"type":"quantitative"},"y2":{"datum":1.9840}}},
 {"data":{"values":[{}]},"mark":{"type":"rule","color":"#4a4ad0","strokeWidth":1.2},"encoding":{"x":{"datum":0.041753,"type":"quantitative"},"x2":{"datum":0.043555},"y":{"datum":2.287,"type":"quantitative"}}},
 {"data":{"values":[{}]},"mark":{"type":"text","text":"Difference in estimating ϕ"},"encoding":{"x":{"datum":0.043970,"type":"quantitative"},"y":{"datum":2.2313,"type":"quantitative"}}},
 {"data":{"values":[{}]},"mark":{"type":"text","text":"C","fontSize":10.5},"encoding":{"x":{"datum":0.069500,"type":"quantitative"},"y":{"datum":2.0809,"type":"quantitative"}}},
 {"data":{"values":[{}]},"mark":{"type":"text","text":"(c)","font":"Liberation Serif","fontSize":40},"encoding":{"x":{"datum":0.009733,"type":"quantitative"},"y":{"datum":-2.5099,"type":"quantitative"}}}
]},
{"width":510,"height":278,"layer":[
 {"data":{"values":[{}]},"mark":{"type":"rect","color":"#c9c9c9"},"encoding":{
   "x":{"datum":0.008258,"type":"quantitative","scale":{"domain":[0.0044054,0.074577],"nice":false,"zero":false},"axis":{"values":[0.015,0.029,0.043,0.057,0.071],"format":".3f","offset":-81.5,"title":"Time (in sec)","titleX":280.5,"titleAlign":"center","zindex":1}},
   "x2":{"datum":0.074577},
   "y":{"datum":0.056144,"type":"quantitative","scale":{"domain":[-0.119409,0.059360],"nice":false,"zero":false},"axis":{"values":[-0.067,-0.008,0.051],"format":".3f","offset":-77,"title":null,"zindex":1}},
   "y2":{"datum":-0.089828}}},
 {"data":{"values":[{}]},"mark":{"type":"rect","fill":"white","stroke":"#808080","strokeWidth":1},"encoding":{"x":{"datum":0.015,"type":"quantitative"},"x2":{"datum":0.071},"y":{"datum":-0.067,"type":"quantitative"},"y2":{"datum":0.051}}},
 {"data":{"values":[{"g":0.029},{"g":0.043},{"g":0.057}]},"mark":{"type":"rule","color":"#777777","strokeDash":[1,2],"strokeWidth":0.8},"encoding":{"x":{"field":"g","type":"quantitative"},"y":{"datum":-0.067,"type":"quantitative"},"y2":{"datum":0.051}}},
 {"data":{"values":[{}]},"mark":{"type":"rule","color":"#777777","strokeDash":[1,2],"strokeWidth":0.8},"encoding":{"x":{"datum":0.015,"type":"quantitative"},"x2":{"datum":0.071},"y":{"datum":-0.008,"type":"quantitative"}}},
 {"data":{"name":"d"},"mark":{"type":"line","color":"#1010e6","strokeWidth":1.9},"encoding":{"x":{"field":"t","type":"quantitative"},"y":{"field":"v","type":"quantitative"}}},
 {"data":{"values":[{}]},"mark":{"type":"rect","fill":"white","stroke":"#888888","strokeWidth":1},"encoding":{"x":{"datum":0.043894,"type":"quantitative"},"x2":{"datum":0.073477},"y":{"datum":-0.048030,"type":"quantitative"},"y2":{"datum":-0.065392}}},
 {"data":{"values":[{}]},"mark":{"type":"rule","color":"#4a4ad0","strokeWidth":1.2},"encoding":{"x":{"datum":0.044403,"type":"quantitative"},"x2":{"datum":0.046371},"y":{"datum":-0.056389,"type":"quantitative"}}},
 {"data":{"values":[{}]},"mark":{"type":"text","text":"Difference in estimating ϕ"},"encoding":{"x":{"datum":0.046825,"type":"quantitative"},"y":{"datum":-0.058125,"type":"quantitative"}}},
 {"data":{"values":[{}]},"mark":{"type":"text","text":"D","fontSize":10.5},"encoding":{"x":{"datum":0.072350,"type":"quantitative"},"y":{"datum":-0.063269,"type":"quantitative"}}},
 {"data":{"values":[{}]},"mark":{"type":"text","text":"(d)","font":"Liberation Serif","fontSize":40},"encoding":{"x":{"datum":0.007391,"type":"quantitative"},"y":{"datum":-0.111049,"type":"quantitative"}}}
]}
]
}
